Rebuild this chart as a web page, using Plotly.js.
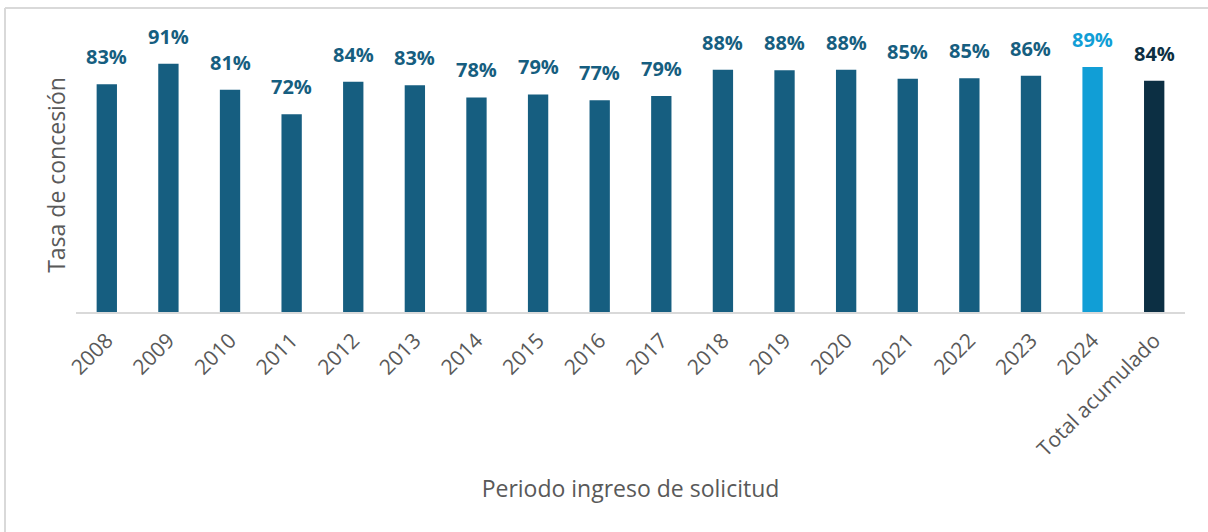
<!DOCTYPE html>
<html>
<head>
<meta charset="utf-8">
<script src="https://cdn.plot.ly/plotly-3.0.1.min.js"></script>
<style>
html,body{margin:0;padding:0;background:#fff;}
#chart{width:1208px;height:532px;}
</style>
</head>
<body>
<div id="chart"></div>
<script>
var categories = ["2008","2009","2010","2011","2012","2013","2014","2015","2016","2017","2018","2019","2020","2021","2022","2023","2024","Total acumulado"];
var tasa = [0.831,0.906,0.811,0.722,0.840,0.828,0.783,0.794,0.773,0.788,0.884,0.882,0.884,0.851,0.853,0.862,0.894,0.844];
var barColors = categories.map(function(c){
  if (c === "2024") return "#119ED6";
  if (c === "Total acumulado") return "#0C2F43";
  return "#165E80";
});

var W = 1208, H = 532;
var mL = 76, mR = 23, mT = 38, mB = 220;
var pw = W - mL - mR, ph = H - mT - mB;
function px(x){ return (x - mL) / pw; }
function py(y){ return (H - mB - y) / ph; }

var trace = {
  type: "bar",
  x: categories,
  y: tasa,
  marker: {color: barColors},
  hoverinfo: "x+y"
};

var annotations = categories.map(function(c, i){
  return {
    x: i, y: tasa[i], xref: "x", yref: "y",
    text: "<b>" + Math.round(tasa[i]*100) + "%</b>",
    showarrow: false, yanchor: "bottom", yshift: 12,
    font: {family: "Open Sans, sans-serif", size: 20, color: barColors[i]}
  };
});

var layout = {
  width: W, height: H,
  margin: {l: mL, r: mR, t: mT, b: mB},
  paper_bgcolor: "#ffffff",
  plot_bgcolor: "#ffffff",
  showlegend: false,
  bargap: 0.67,
  font: {family: "Open Sans, sans-serif", color: "#595959"},
  xaxis: {
    type: "category",
    range: [-0.5, categories.length - 0.5],
    tickangle: -45,
    tickfont: {size: 21, color: "#595959"},
    ticklabelstandoff: 6,
    showline: true, linecolor: "#D9D9D9", linewidth: 2,
    ticks: "", showgrid: false, zeroline: false,
    title: {text: "Periodo ingreso de solicitud", font: {size: 23, color: "#595959"}, standoff: 20}
  },
  yaxis: {
    range: [0, 1],
    showticklabels: false, showgrid: false, zeroline: false, showline: false, ticks: "",
    title: {text: "Tasa de concesión", font: {size: 23, color: "#595959"}, standoff: 2}
  },
  annotations: annotations,
  shapes: [
    {type: "line", xref: "paper", yref: "paper", x0: px(5), x1: px(1210), y0: py(8), y1: py(8), line: {color: "#D9D9D9", width: 2}},
    {type: "line", xref: "paper", yref: "paper", x0: px(5), x1: px(5), y0: py(8), y1: py(534), line: {color: "#D9D9D9", width: 2}}
  ]
};

Plotly.newPlot("chart", [trace], layout, {displayModeBar: false, staticPlot: true});
</script>
</body>
</html>
